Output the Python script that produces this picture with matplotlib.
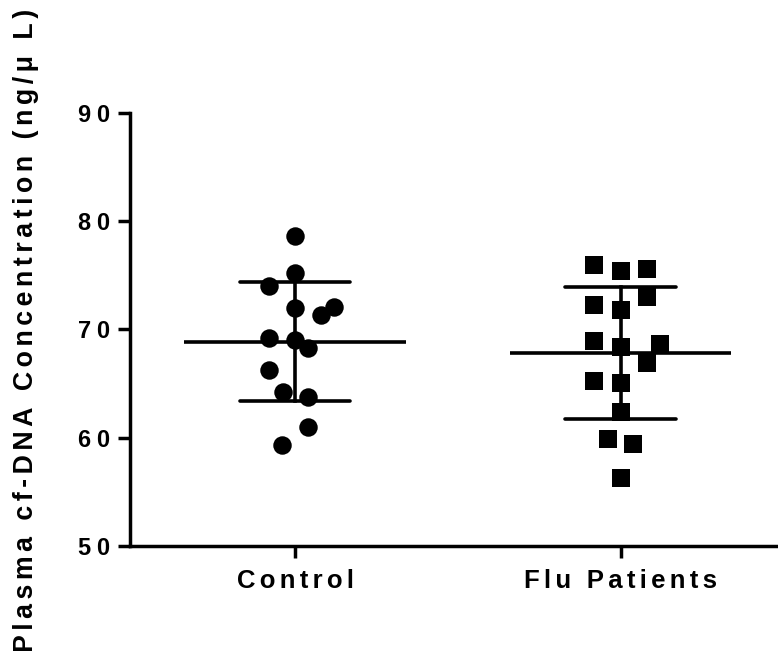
import numpy as np
import matplotlib
matplotlib.use("Agg")
import matplotlib.pyplot as plt

# values (ng/uL)
groups = ["Control", "Flu Patients"]
control = [78.6, 75.2, 74.0, 72.0, 71.3, 72.05, 69.2, 69.0, 68.3, 66.3, 64.25, 63.8, 61.0, 59.3]
flu = [76.0, 75.4, 75.6, 73.0, 72.3, 71.8, 68.9, 68.4, 68.7, 66.9, 65.2, 65.1, 62.4, 59.9, 59.4, 56.25]
# horizontal scatter of the points within each column (category units)
control_jitter = [0, 0, -0.08, 0, 0.079, 0.12, -0.08, 0, 0.04, -0.08, -0.037, 0.04, 0.04, -0.04]
flu_jitter = [-0.081, 0, 0.08, 0.08, -0.081, 0, -0.081, 0, 0.12, 0.08, -0.081, 0, 0, -0.04, 0.039, 0]
yticks = [50, 60, 70, 80, 90]

FONT = ["Liberation Sans", "DejaVu Sans"]
GAP = "\u2006"  # six-per-em space


def spaced(s, sep=GAP):
    # fake the wide letter spacing of the original
    return sep.join(s)


fig = plt.figure(figsize=(7.78, 6.51), dpi=100)
ax = fig.add_axes([130 / 778, 105 / 651, 648 / 778, 433 / 651])

lw = 2.6
for i, (vals, jit, mk) in enumerate([(control, control_jitter, "o"), (flu, flu_jitter, "s")]):
    vals = np.array(vals)
    xs = i + np.array(jit)
    ax.plot(xs, vals, linestyle="none", marker=mk, markersize=13.3, color="black",
            markeredgewidth=0, zorder=3)
    m = vals.mean()
    sd = vals.std(ddof=1)
    # mean line
    ax.plot([i - 0.34, i + 0.34], [m, m], color="black", lw=lw, solid_capstyle="butt", zorder=4)
    # SD whisker + caps
    ax.plot([i, i], [m - sd, m + sd], color="black", lw=lw, zorder=4)
    ax.plot([i - 0.17, i + 0.17], [m + sd, m + sd], color="black", lw=lw,
            solid_capstyle="round", zorder=4)
    ax.plot([i - 0.17, i + 0.17], [m - sd, m - sd], color="black", lw=lw,
            solid_capstyle="round", zorder=4)

ax.set_xlim(-0.507, 1.483)
ax.set_ylim(50, 90)
ax.set_yticks(yticks)
ax.set_yticklabels([spaced(str(t), "\u2005") for t in yticks], fontfamily=FONT,
                   fontweight="bold", fontsize=17)
ax.set_xticks([0, 1])
ax.set_xticklabels([spaced(g) for g in groups], fontfamily=FONT,
                   fontweight="bold", fontsize=18.5)

for side in ["top", "right"]:
    ax.spines[side].set_visible(False)
for side in ["left", "bottom"]:
    ax.spines[side].set_linewidth(2.5)
ax.spines["left"].set_capstyle("projecting")
ax.tick_params(axis="both", direction="out", length=8.5, width=2.5, color="black")
ax.tick_params(axis="y", pad=6)
ax.tick_params(axis="x", pad=8)

fig.text(26.5 / 778, 1 - 330 / 651, spaced("Plasma cf-DNA Concentration (ng/\u03bc L)"),
         rotation=90, ha="center", va="center", fontfamily=FONT,
         fontweight="bold", fontsize=19.3)

fig.savefig("out.png", dpi=100)
